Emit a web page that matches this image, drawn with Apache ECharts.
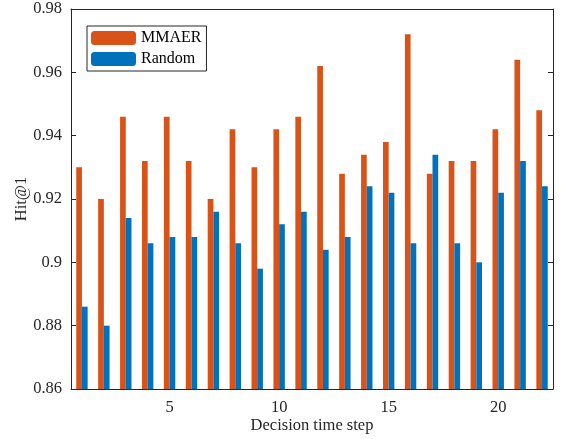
<!DOCTYPE html>
<html><head><meta charset="utf-8">
<script src="https://cdn.jsdelivr.net/npm/echarts@6/dist/echarts.min.js"></script>
<style>html,body{margin:0;padding:0;background:#fff}#c{width:561px;height:439px}</style>
</head><body><div id="c"></div>
<script>
const categories = ['1','2','3','4','5','6','7','8','9','10','11','12','13','14','15','16','17','18','19','20','21','22'];
const mmaer = [0.930,0.920,0.946,0.932,0.946,0.932,0.920,0.942,0.930,0.942,0.946,0.962,0.928,0.934,0.938,0.972,0.928,0.932,0.932,0.942,0.964,0.948];
const randomVals = [0.886,0.880,0.914,0.906,0.908,0.908,0.916,0.906,0.898,0.912,0.916,0.904,0.908,0.924,0.922,0.906,0.934,0.906,0.900,0.922,0.932,0.924];
const seriesNames = ['MMAER','Random'];
const yMin = 0.86, yMax = 0.98, yStep = 0.02;

const FONT = 'Liberation Serif';
const AX = '#262626';
const showTick = (i) => (i + 1) % 5 === 0;
const chart = echarts.init(document.getElementById('c'), null, {renderer:'canvas'});
chart.setOption({
  animation: false,
  textStyle: {fontFamily: FONT},
  grid: {left: 71, right: 8, top: 9, bottom: 50, containLabel: false, outerBoundsMode: 'none'},
  legend: {
    left: 87, top: 26, orient: 'vertical',
    itemWidth: 45, itemHeight: 14, itemGap: 5, itemTextGap: 3,
    padding: [4, 5, 4, 4],
    borderColor: AX, borderWidth: 1, backgroundColor: '#fff',
    textStyle: {fontFamily: FONT, fontSize: 16, color: '#000'},
    data: seriesNames
  },
  xAxis: [{
    type: 'category', data: categories, position: 'bottom',
    axisLine: {lineStyle: {color: AX, width: 1}},
    axisTick: {inside: true, alignWithLabel: true, interval: showTick, length: 5, lineStyle: {color: AX}},
    axisLabel: {interval: showTick, margin: 10, fontFamily: FONT, fontSize: 16.5, color: AX},
    name: 'Decision time step', nameLocation: 'middle', nameGap: 28, nameMoveOverlap: false,
    nameTextStyle: {fontFamily: FONT, fontSize: 16.5, color: AX}
  }, {
    type: 'category', data: categories, position: 'top',
    axisLine: {show: true, lineStyle: {color: AX, width: 1}},
    axisTick: {inside: true, alignWithLabel: true, interval: showTick, length: 5, lineStyle: {color: AX}},
    axisLabel: {show: false}
  }],
  yAxis: [{
    type: 'value', min: yMin, max: yMax, interval: yStep, position: 'left',
    axisLine: {show: true, lineStyle: {color: AX, width: 1}},
    axisTick: {show: true, inside: true, length: 5, lineStyle: {color: AX}},
    splitLine: {show: false},
    axisLabel: {formatter: v => String(+v.toFixed(2)), margin: 9, fontFamily: FONT, fontSize: 16.5, color: AX},
    name: 'Hit@1', nameLocation: 'middle', nameGap: 41, nameMoveOverlap: false,
    nameTextStyle: {fontFamily: FONT, fontSize: 16.5, color: AX}
  }, {
    type: 'value', min: yMin, max: yMax, interval: yStep, position: 'right',
    axisLine: {show: true, lineStyle: {color: AX, width: 1}},
    axisTick: {show: true, inside: true, length: 5, lineStyle: {color: AX}},
    splitLine: {show: false},
    axisLabel: {show: false}
  }],
  series: [{
    name: seriesNames[0], type: 'bar', data: mmaer, barWidth: 5.7, barGap: '0%',
    itemStyle: {color: '#D95319'}
  }, {
    name: seriesNames[1], type: 'bar', data: randomVals, barWidth: 5.7, barGap: '0%',
    itemStyle: {color: '#0072BD'}
  }]
});
</script></body></html>
